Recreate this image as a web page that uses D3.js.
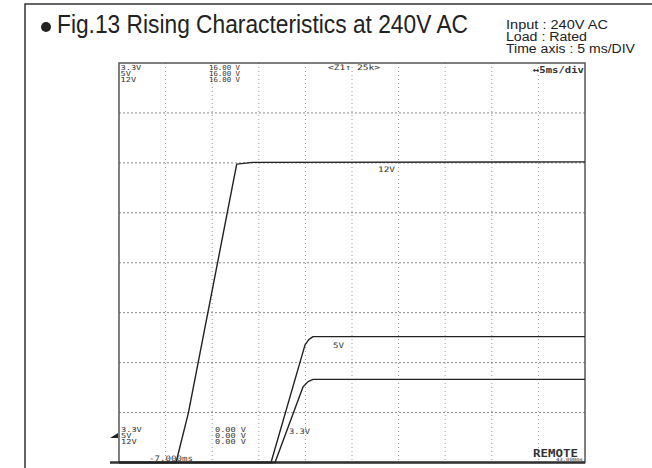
<!DOCTYPE html>
<html>
<head>
<meta charset="utf-8">
<script src="https://cdn.jsdelivr.net/npm/d3@7"></script>
<style>
  body { margin: 0; background: #fff; }
  text { font-family: "Liberation Sans", Arial, sans-serif; }
  .scope { font-family: "DejaVu Sans Mono", monospace; fill: #333; }
</style>
</head>
<body>
<div id="chart"></div>
<script>
// time (ms, left edge = -7 ms) and voltage (V) of each trace
const time12 = [-7, -0.88, 0.44, 5.63, 7.35, 43];
const volt12 = [0, 0, 1.98, 11.95, 12.02, 12.04];
const time5 = [-7, 9.31, 12.96, 13.39, 13.82, 43];
const volt5 = [0, 0, 4.71, 4.93, 5.04, 5.04];
const time33 = [-7, 9.74, 12.74, 13.28, 13.82, 43];
const volt33 = [0, 0, 3.02, 3.24, 3.33, 3.33];

// grid divisions: 5 ms/div, 2 V/div
const timeDivs = [-2, 3, 8, 13, 18, 23, 28, 33, 38];
const voltDivs = [2, 4, 6, 8, 10, 12, 14];

const channels = ["3.3V", "5V", "12V"];
const fullScale = ["16.00 V", "16.00 V", "16.00 V"];
const zeroLevel = ["0.00 V", "0.00 V", "0.00 V"];
const notes = ["Input : 240V AC", "Load : Rated", "Time axis : 5 ms/DIV"];

const width = 652, height = 468;
const plot = { left: 119, right: 585, top: 63, bottom: 462.5 };

const svg = d3.select("#chart").append("svg")
    .attr("width", width)
    .attr("height", height);

// outer frame of the figure
svg.append("path")
    .attr("d", "M25,468 V4 H652")
    .attr("fill", "none")
    .attr("stroke", "#333")
    .attr("stroke-width", 1.5);

// title
svg.append("circle").attr("cx", 46).attr("cy", 27).attr("r", 5).attr("fill", "#222");
svg.append("text")
    .attr("x", 57).attr("y", 33)
    .attr("font-size", 26)
    .attr("fill", "#222")
    .attr("textLength", 411)
    .attr("lengthAdjust", "spacingAndGlyphs")
    .text("Fig.13 Rising Characteristics at 240V AC");

const noteWidths = [102, 81, 129];
svg.selectAll(".note")
    .data(notes)
    .join("text")
    .attr("class", "note")
    .attr("x", 506)
    .attr("y", (d, i) => 29 + i * 11.9)
    .attr("font-size", 12.5)
    .attr("fill", "#222")
    .attr("textLength", (d, i) => noteWidths[i])
    .attr("lengthAdjust", "spacingAndGlyphs")
    .text(d => d);

// scales
const x = d3.scaleLinear().domain([-7, 43]).range([plot.left, plot.right]);
const y = d3.scaleLinear().domain([0, 16]).range([plot.bottom, plot.top]);

// grid
svg.append("g")
    .selectAll("line")
    .data(timeDivs)
    .join("line")
    .attr("x1", d => x(d)).attr("x2", d => x(d))
    .attr("y1", plot.top).attr("y2", plot.bottom)
    .attr("stroke", "#999")
    .attr("stroke-width", 1)
    .attr("stroke-dasharray", "1,3");

svg.append("g")
    .selectAll("line")
    .data(voltDivs)
    .join("line")
    .attr("x1", plot.left).attr("x2", plot.right)
    .attr("y1", d => y(d)).attr("y2", d => y(d))
    .attr("stroke", "#888")
    .attr("stroke-width", 1)
    .attr("stroke-dasharray", "2,2");

// screen border
svg.append("rect")
    .attr("x", plot.left).attr("y", plot.top)
    .attr("width", plot.right - plot.left)
    .attr("height", plot.bottom - plot.top)
    .attr("fill", "none")
    .attr("stroke", "#555")
    .attr("stroke-width", 1.5);

svg.append("line")
    .attr("x1", 110).attr("x2", plot.right)
    .attr("y1", plot.bottom).attr("y2", plot.bottom)
    .attr("stroke", "#333")
    .attr("stroke-width", 2.5);

// traces
const traces = [
    { t: time12, v: volt12 },
    { t: time5, v: volt5 },
    { t: time33, v: volt33 }
];
const line = d3.line()
    .x(d => x(d[0]))
    .y(d => y(d[1]));

svg.append("g")
    .selectAll("path")
    .data(traces)
    .join("path")
    .attr("d", d => line(d.t.map((t, i) => [t, d.v[i]])))
    .attr("fill", "none")
    .attr("stroke", "#222")
    .attr("stroke-width", 1.4)
    .attr("stroke-linejoin", "round");

// scope readouts (stacked tightly, as on the scope screen)
function readout(list, xPos, y0, len) {
    svg.append("g")
        .selectAll("text")
        .data(list)
        .join("text")
        .attr("class", "scope")
        .attr("x", xPos)
        .attr("y", (d, i) => y0 + i * 5.8)
        .attr("font-size", 6.8)
        .attr("textLength", d => len(d))
        .attr("lengthAdjust", "spacingAndGlyphs")
        .text(d => d);
}
readout(channels, 120.5, 70, d => d.length * 5.2);
readout(fullScale, 209, 70, () => 31);
readout(channels, 121, 432, d => d.length * 5.2);
readout(zeroLevel, 215, 432, () => 31);

function label(txt, xPos, yPos, len, size, weight) {
    svg.append("text")
        .attr("class", "scope")
        .attr("x", xPos).attr("y", yPos)
        .attr("font-size", size || 7.5)
        .attr("font-weight", weight || "normal")
        .attr("textLength", len)
        .attr("lengthAdjust", "spacingAndGlyphs")
        .text(txt);
}
label("<Z1↑ 25k>", 328, 70, 52);
label("↔5ms/div", 533, 73, 51, 9.5, "bold");
label("12V", 378, 172, 17);
label("5V", 333, 348, 11);
label("3.3V", 289, 434, 21);
label("-7.000ms", 149, 461, 44);
label("REMOTE", 533, 457, 45, 10, "bold");
label("43.000ms", 556, 461, 27, 4.5);

// ground marker
svg.append("path")
    .attr("d", "M110,438 L118,438 L118,433 Z")
    .attr("fill", "#222");
</script>
</body>
</html>
